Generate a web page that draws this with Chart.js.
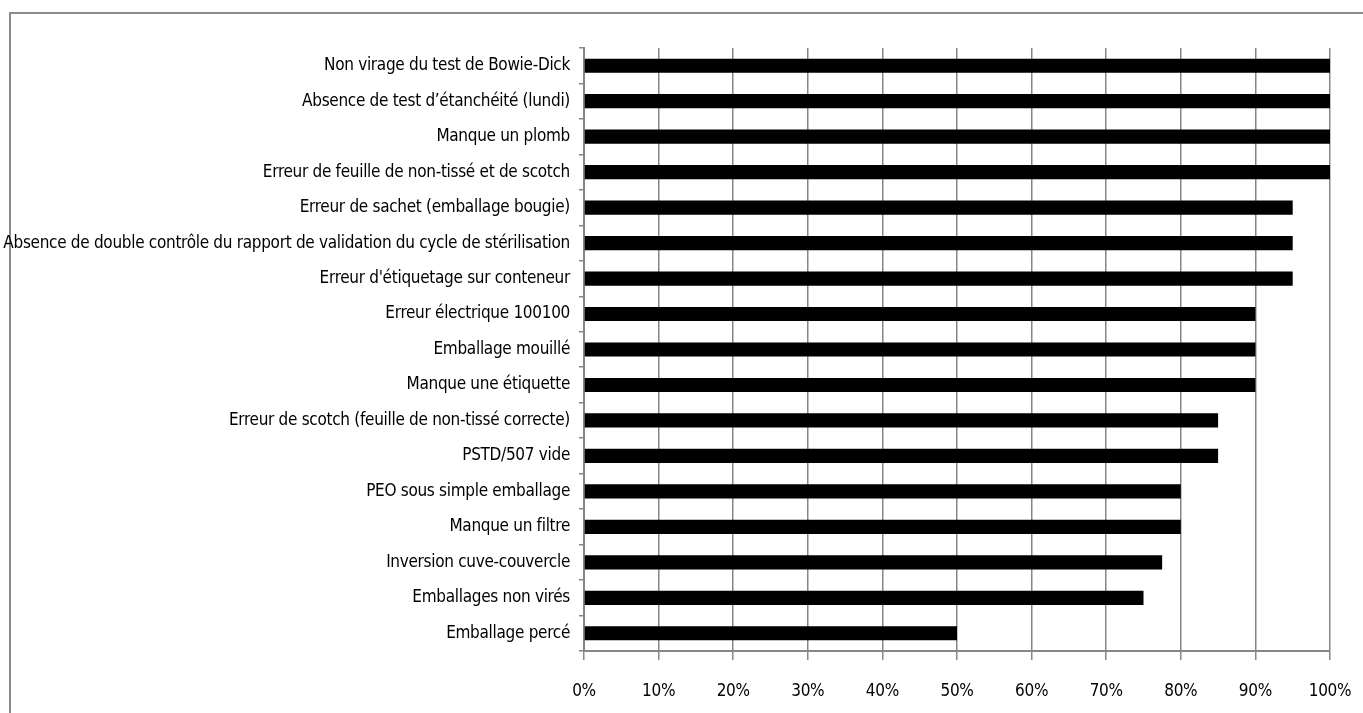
<!DOCTYPE html>
<html>
<head>
<meta charset="utf-8">
<script src="https://cdn.jsdelivr.net/npm/chart.js@4"></script>
<style>
  html, body { margin: 0; padding: 0; background: #fff; overflow: hidden; }
  #frame {
    position: absolute; left: 9px; top: 12px; width: 1400px; height: 800px;
    border-top: 2px solid #8c8c8c; border-left: 2px solid #8c8c8c;
  }
  #wrap { position: absolute; left: 0; top: 0; width: 1363px; height: 713px; }
</style>
</head>
<body>
<div id="frame"></div>
<div id="wrap"><canvas id="chart"></canvas></div>
<script>
// categories, top to bottom
const categories = [
    'Non virage du test de Bowie-Dick',
    'Absence de test d\u2019étanchéité (lundi)',
    'Manque un plomb',
    'Erreur de feuille de non-tissé et de scotch',
    'Erreur de sachet (emballage bougie)',
    'Absence de double contrôle du rapport de validation du cycle de stérilisation',
    'Erreur d\'étiquetage sur conteneur',
    'Erreur électrique 100100',
    'Emballage mouillé',
    'Manque une étiquette',
    'Erreur de scotch (feuille de non-tissé correcte)',
    'PSTD/507 vide',
    'PEO sous simple emballage',
    'Manque un filtre',
    'Inversion cuve-couvercle',
    'Emballages non virés',
    'Emballage percé',
];

// percentages
const values = [100, 100, 100, 100, 95, 95, 95, 90, 90, 90, 85, 85, 80, 80, 77.5, 75, 50];

const xTicks = [0, 10, 20, 30, 40, 50, 60, 70, 80, 90, 100];

const FONT = "'DejaVu Sans Condensed', 'Liberation Sans', sans-serif";

// squeeze the text a little, the original uses a narrow font
const narrowText = {
    id: 'narrowText',
    beforeDraw: chart => { chart.ctx.letterSpacing = '-0.3px'; },
};

function initChart() {
    const ctx = document.getElementById('chart');
    new Chart(ctx, {
        type: 'bar',
        data: {
            labels: categories,
            datasets: [{
                data: values,
                backgroundColor: '#000000',
                borderWidth: 0,
                categoryPercentage: 1,
                barPercentage: 0.4,
            }],
        },
        plugins: [narrowText],
        options: {
            indexAxis: 'y',
            responsive: true,
            maintainAspectRatio: false,
            animation: false,
            layout: { padding: { top: 48, right: 33, left: 0, bottom: 0 } },
            plugins: {
                legend: { display: false },
                tooltip: { enabled: false },
            },
            scales: {
                x: {
                    min: 0,
                    max: 100,
                    afterFit: s => { s.height = 62; s.paddingRight = 0; s.paddingLeft = 0; },
                    afterBuildTicks: s => { s.ticks = xTicks.map(v => ({ value: v })); },
                    ticks: {
                        color: '#000',
                        font: { family: FONT, size: 17 },
                        padding: 21,
                        maxRotation: 0,
                        callback: v => v + '%',
                    },
                    grid: { color: '#868686', lineWidth: 1.5, tickLength: 9 },
                    border: { color: '#868686', width: 2 },
                },
                y: {
                    afterFit: s => { s.width = 584; },
                    ticks: {
                        color: '#000',
                        font: { family: FONT, size: 17 },
                        padding: 9,
                        autoSkip: false,
                    },
                    grid: { drawOnChartArea: false, color: '#868686', lineWidth: 1.5, tickLength: 5 },
                    border: { color: '#868686', width: 2 },
                },
            },
        },
    });
}

document.addEventListener('DOMContentLoaded', initChart);
</script>
</body>
</html>
